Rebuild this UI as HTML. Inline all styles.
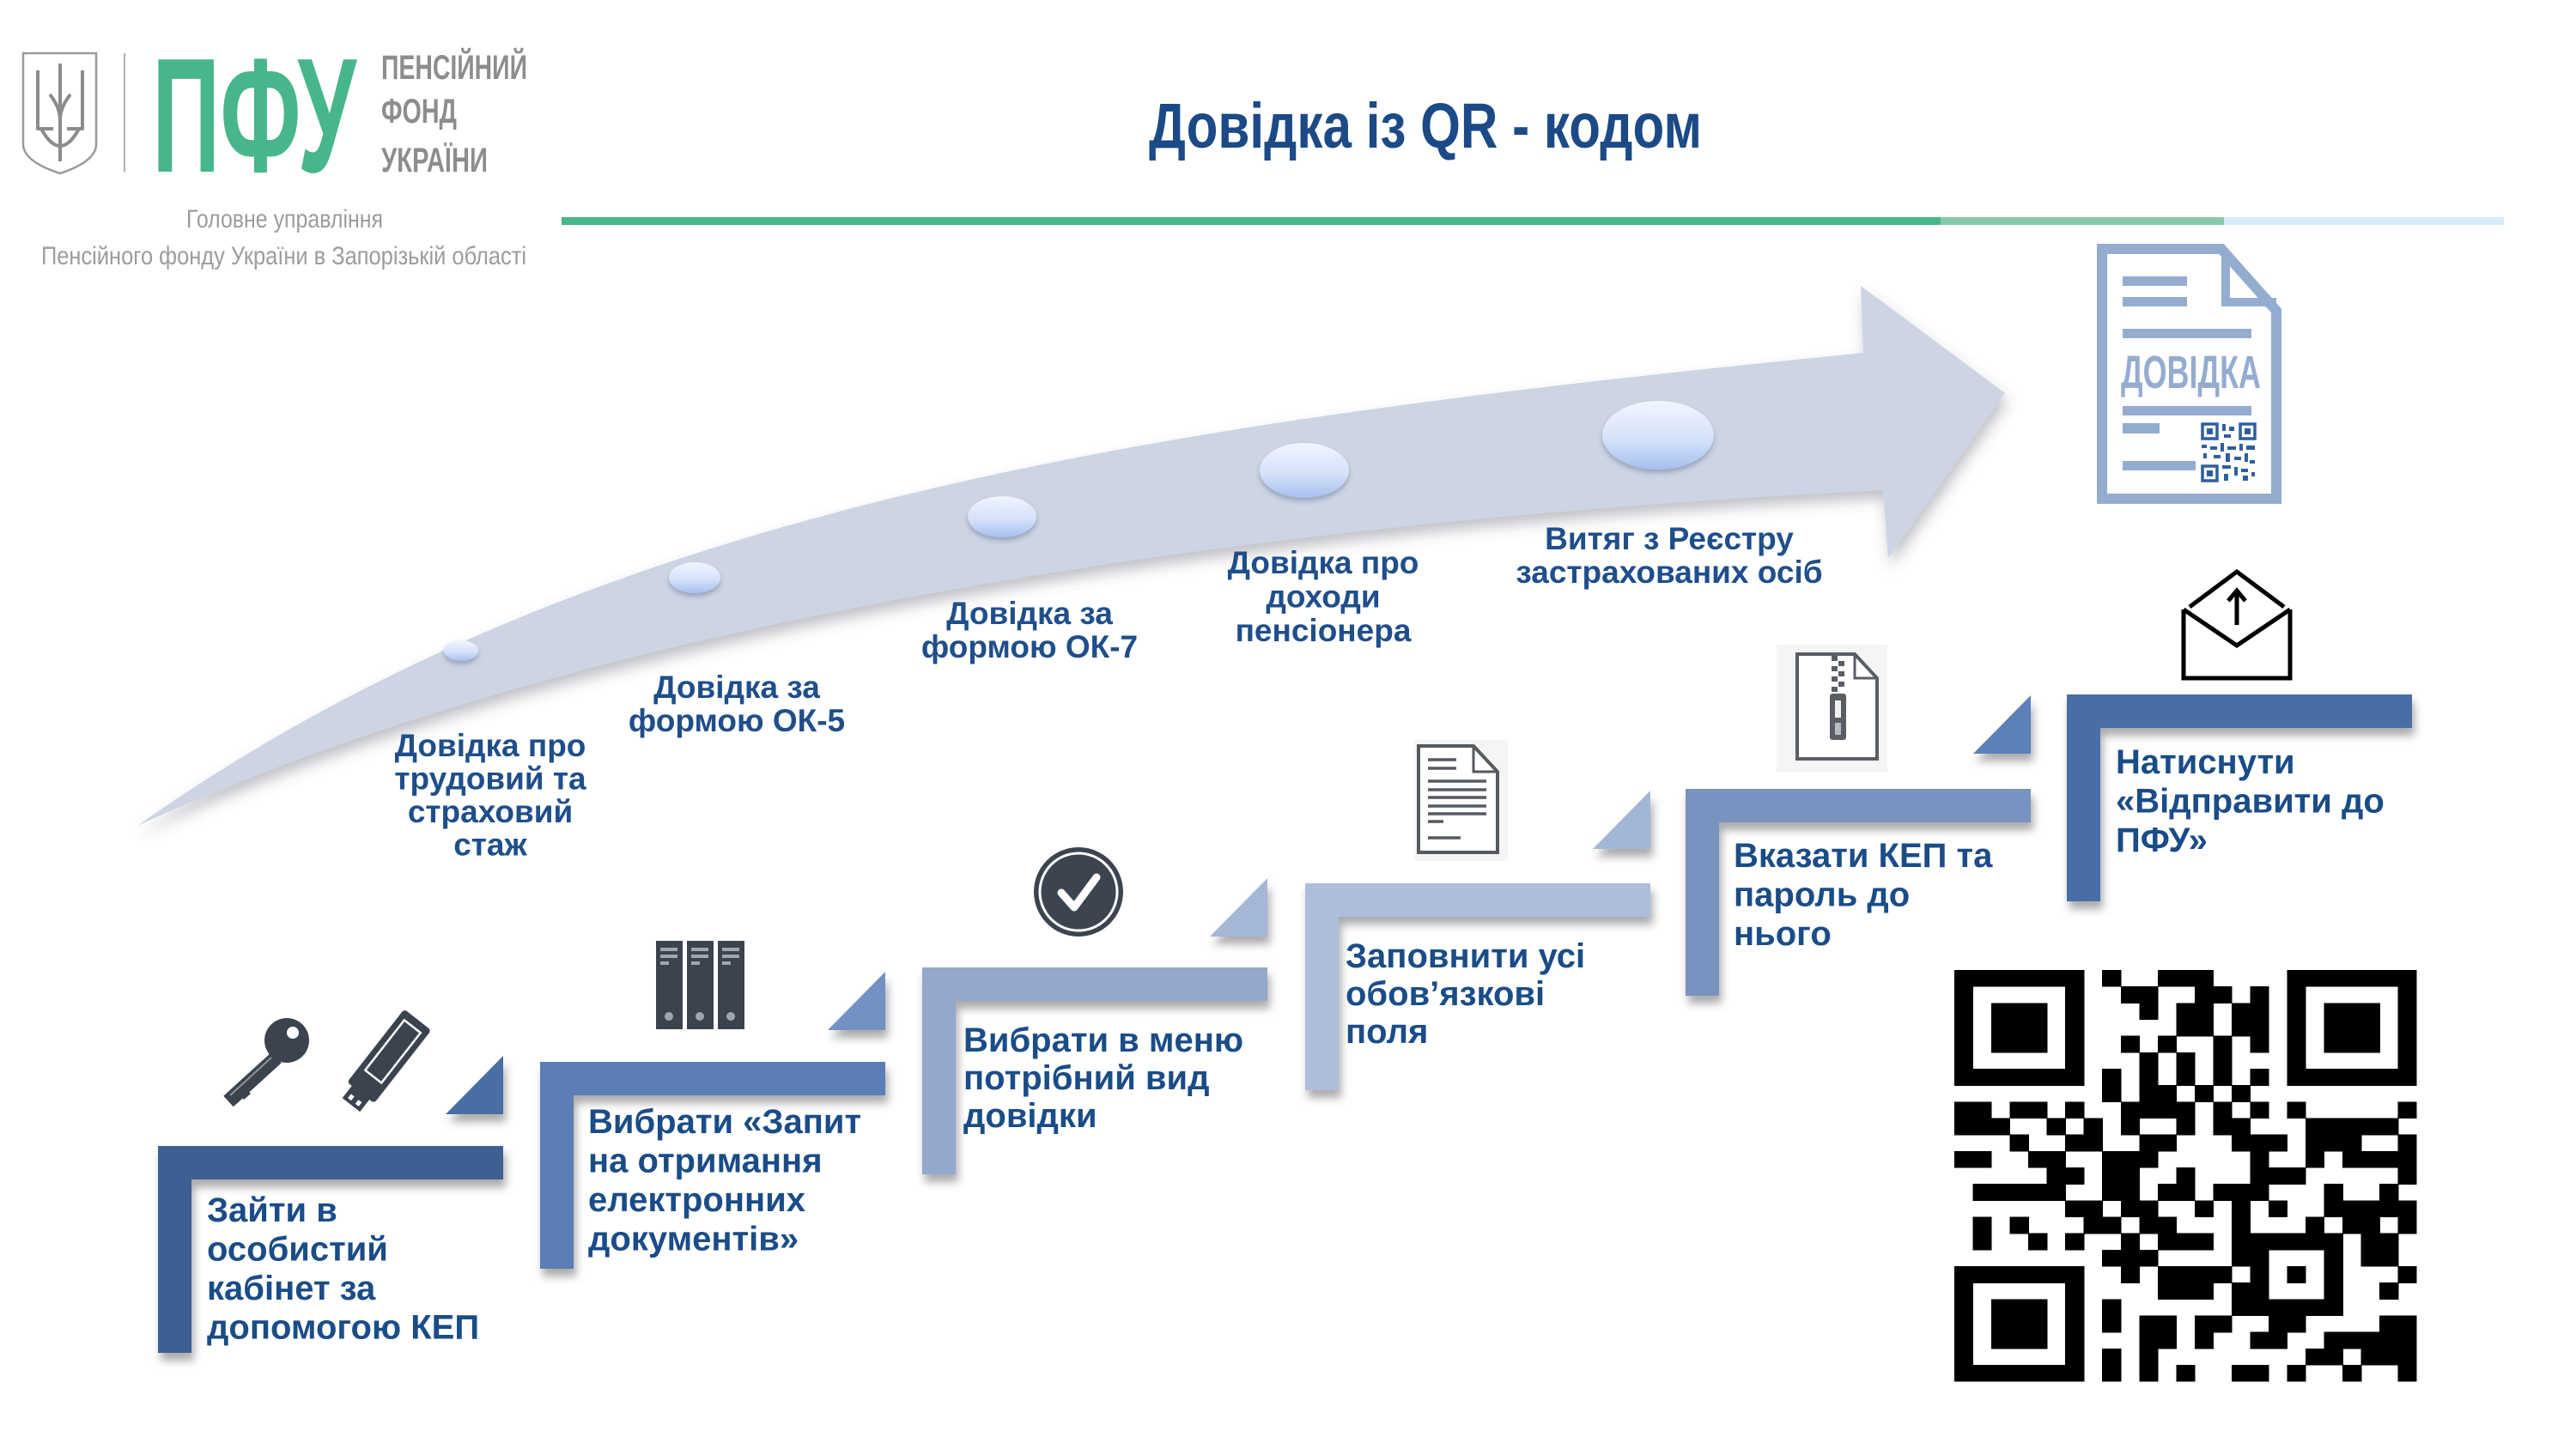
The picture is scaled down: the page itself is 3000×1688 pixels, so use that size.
<!DOCTYPE html>
<html>
<head>
<meta charset="utf-8">
<style>
html,body{margin:0;padding:0;background:#ffffff;}
svg{display:block;}
</style>
</head>
<body>
<svg width="3000" height="1688" viewBox="0 0 3000 1688" xmlns="http://www.w3.org/2000/svg" font-family="'Liberation Sans', Arial, sans-serif">
<defs>
  <filter id="sh" x="-20%" y="-20%" width="150%" height="160%">
    <feDropShadow dx="3" dy="9" stdDeviation="5" flood-color="#000" flood-opacity="0.33"/>
  </filter>
  <filter id="ash" x="-10%" y="-20%" width="130%" height="150%">
    <feDropShadow dx="3" dy="10" stdDeviation="8" flood-color="#4a5060" flood-opacity="0.35"/>
  </filter>
  <filter id="bsh" x="-30%" y="-30%" width="160%" height="180%">
    <feDropShadow dx="0" dy="4" stdDeviation="3" flood-color="#3a4a70" flood-opacity="0.35"/>
  </filter>
  <linearGradient id="bub" x1="0" y1="0" x2="0" y2="1">
    <stop offset="0" stop-color="#f1f5fe"/>
    <stop offset="0.55" stop-color="#d6e2fa"/>
    <stop offset="1" stop-color="#a6c0f0"/>
  </linearGradient>
</defs>

<!-- ===== LOGO ===== -->
<g fill="none" stroke="#9a9a9a" stroke-width="2.5">
  <path d="M27,62 L112,62 L112,168 Q112,188 70,202 Q27,188 27,168 Z"/>
</g>
<g fill="none" stroke="#8c8c8c" stroke-width="4" stroke-linejoin="round">
  <path d="M70,74 L70,172"/>
  <path d="M44,82 L44,150 L62,150"/>
  <path d="M96,82 L96,150 L78,150"/>
  <path d="M48,150 Q70,190 92,150"/>
  <path d="M58,110 Q70,125 70,140 Q70,125 82,110"/>
  <path d="M70,172 L70,188"/>
</g>
<line x1="145" y1="62" x2="145" y2="200" stroke="#b0b0b0" stroke-width="2"/>
<text x="177" y="200" font-size="190" font-weight="bold" fill="#47b68b" textLength="238" lengthAdjust="spacingAndGlyphs">ПФУ</text>
<text x="444" y="92" font-size="40" font-weight="bold" fill="#8d8d8d" textLength="170" lengthAdjust="spacingAndGlyphs">ПЕНСІЙНИЙ</text>
<text x="444" y="143" font-size="40" font-weight="bold" fill="#8d8d8d" textLength="88" lengthAdjust="spacingAndGlyphs">ФОНД</text>
<text x="444" y="200" font-size="40" font-weight="bold" fill="#8d8d8d" textLength="124" lengthAdjust="spacingAndGlyphs">УКРАЇНИ</text>
<text x="217" y="265" font-size="30" fill="#9c9c9c" textLength="229" lengthAdjust="spacingAndGlyphs">Головне управління</text>
<text x="48" y="308" font-size="30" fill="#9c9c9c" textLength="565" lengthAdjust="spacingAndGlyphs">Пенсійного  фонду України  в Запорізькій  області</text>

<!-- ===== TITLE ===== -->
<text x="1338" y="172" font-size="74" font-weight="bold" fill="#1b4a86" textLength="644" lengthAdjust="spacingAndGlyphs">Довідка із QR - кодом</text>

<!-- green line -->
<rect x="654" y="253" width="1606" height="9" fill="#47b68b"/>
<rect x="2260" y="253" width="330" height="9" fill="#87caa9"/>
<rect x="2590" y="253" width="326" height="9" fill="#d5ebf8"/>

<!-- ===== BIG ARROW ===== -->
<path filter="url(#ash)" fill="#cdd5e4" d="M160,962 C700,580 1370,491 2170,411 L2167,333 L2335,458 L2199,650 L2193,571 C1393,610 660,732 160,962 Z"/>

<!-- bubbles -->
<g filter="url(#bsh)" fill="url(#bub)">
  <ellipse cx="537" cy="758" rx="20" ry="12"/>
  <ellipse cx="809" cy="673" rx="30" ry="18"/>
  <ellipse cx="1167" cy="602" rx="40" ry="24"/>
  <ellipse cx="1519" cy="548" rx="52" ry="32"/>
  <ellipse cx="1931" cy="507" rx="65" ry="40"/>
</g>

<!-- arrow labels -->
<g font-size="37" font-weight="bold" fill="#1f4e8b" text-anchor="middle">
  <text x="571" y="881"><tspan x="571">Довідка про</tspan><tspan x="571" dy="38.5">трудовий та</tspan><tspan x="571" dy="38.5">страховий</tspan><tspan x="571" dy="38.5">стаж</tspan></text>
  <text x="858" y="813"><tspan x="858">Довідка за</tspan><tspan x="858" dy="39">формою ОК-5</tspan></text>
  <text x="1199" y="727"><tspan x="1199">Довідка за</tspan><tspan x="1199" dy="39">формою ОК-7</tspan></text>
  <text x="1541" y="668"><tspan x="1541">Довідка про</tspan><tspan x="1541" dy="39.5">доходи</tspan><tspan x="1541" dy="39.5">пенсіонера</tspan></text>
  <text x="1944" y="640"><tspan x="1944">Витяг з Реєстру</tspan><tspan x="1944" dy="39">застрахованих осіб</tspan></text>
</g>

<!-- ===== DOC ICON (top right) ===== -->
<g fill="none" stroke="#94acd0" stroke-width="12" stroke-linejoin="miter">
  <path d="M2448,290 L2587,290 L2651,362 L2651,581 L2448,581 Z"/>
  <path d="M2592,292 L2592,352 L2651,352" stroke-width="10"/>
</g>
<g fill="#94acd0">
  <rect x="2472" y="322" width="75" height="11"/>
  <rect x="2472" y="346" width="75" height="11"/>
  <rect x="2472" y="383" width="150" height="11"/>
  <rect x="2472" y="473" width="150" height="11"/>
  <rect x="2472" y="493" width="43" height="12"/>
  <rect x="2472" y="537" width="85" height="11"/>
</g>
<text x="2470" y="452" font-size="54" font-weight="bold" fill="#94acd0" textLength="163" lengthAdjust="spacingAndGlyphs">ДОВІДКА</text>
<g fill="none" stroke="#2f5ea0" stroke-width="3.5">
  <rect x="2565" y="494" width="17" height="17"/>
  <rect x="2609" y="494" width="17" height="17"/>
  <rect x="2565" y="543" width="17" height="17"/>
</g>
<g fill="#2f5ea0">
  <rect x="2570" y="499" width="7" height="7"/>
  <rect x="2614" y="499" width="7" height="7"/>
  <rect x="2570" y="548" width="7" height="7"/>
  <rect x="2588" y="494" width="4" height="8"/><rect x="2596" y="497" width="6" height="5"/><rect x="2590" y="506" width="8" height="4"/>
  <rect x="2564" y="518" width="6" height="4"/><rect x="2574" y="520" width="8" height="4"/><rect x="2586" y="516" width="4" height="10"/>
  <rect x="2594" y="520" width="10" height="4"/><rect x="2608" y="517" width="4" height="8"/><rect x="2616" y="519" width="10" height="5"/>
  <rect x="2566" y="528" width="4" height="6"/><rect x="2578" y="530" width="8" height="4"/><rect x="2592" y="528" width="5" height="10"/>
  <rect x="2602" y="532" width="8" height="4"/><rect x="2614" y="528" width="4" height="10"/><rect x="2620" y="536" width="6" height="4"/>
  <rect x="2588" y="542" width="10" height="4"/><rect x="2602" y="544" width="4" height="10"/><rect x="2610" y="546" width="8" height="4"/>
  <rect x="2590" y="552" width="5" height="8"/><rect x="2612" y="554" width="6" height="6"/><rect x="2622" y="550" width="4" height="5"/>
</g>

<!-- ===== STEPS ===== -->
<!-- step 1 -->
<g filter="url(#sh)" fill="#3c5f92">
  <rect x="184" y="1335" width="402" height="39"/>
  <rect x="184" y="1335" width="39" height="241"/>
</g>
<polygon filter="url(#sh)" fill="#4a6ea5" points="519,1298 586,1298 586,1230"/>
<!-- step 2 -->
<g filter="url(#sh)" fill="#5a7eb5">
  <rect x="629" y="1237" width="402" height="39"/>
  <rect x="629" y="1237" width="39" height="241"/>
</g>
<polygon filter="url(#sh)" fill="#7391c2" points="964,1200 1031,1200 1031,1132"/>
<!-- step 3 -->
<g filter="url(#sh)" fill="#93a8cb">
  <rect x="1074" y="1127" width="402" height="39"/>
  <rect x="1074" y="1127" width="39" height="241"/>
</g>
<polygon filter="url(#sh)" fill="#a5b7d6" points="1409,1091 1476,1091 1476,1023"/>
<!-- step 4 -->
<g filter="url(#sh)" fill="#adbedb">
  <rect x="1520" y="1029" width="402" height="39"/>
  <rect x="1520" y="1029" width="39" height="241"/>
</g>
<polygon filter="url(#sh)" fill="#a3b6d6" points="1855,989 1922,989 1922,921"/>
<!-- step 5 -->
<g filter="url(#sh)" fill="#7893c0">
  <rect x="1963" y="919" width="402" height="39"/>
  <rect x="1963" y="919" width="39" height="241"/>
</g>
<polygon filter="url(#sh)" fill="#5b80ba" points="2298,878 2365,878 2365,810"/>
<!-- step 6 -->
<g filter="url(#sh)" fill="#4a6ea5">
  <rect x="2407" y="809" width="402" height="39"/>
  <rect x="2407" y="809" width="39" height="241"/>
</g>

<!-- step texts -->
<g font-size="40" font-weight="bold" fill="#1a4c88">
  <text x="241" y="1423"><tspan x="241">Зайти в</tspan><tspan x="241" dy="45.5">особистий</tspan><tspan x="241" dy="45.5">кабінет за</tspan><tspan x="241" dy="45.5">допомогою КЕП</tspan></text>
  <text x="685" y="1320"><tspan x="685">Вибрати «Запит</tspan><tspan x="685" dy="45.5">на отримання</tspan><tspan x="685" dy="45.5">електронних</tspan><tspan x="685" dy="45.5">документів»</tspan></text>
  <text x="1122" y="1225"><tspan x="1122">Вибрати в меню</tspan><tspan x="1122" dy="44">потрібний вид</tspan><tspan x="1122" dy="44">довідки</tspan></text>
  <text x="1567" y="1127"><tspan x="1567">Заповнити усі</tspan><tspan x="1567" dy="44">обов’язкові</tspan><tspan x="1567" dy="44">поля</tspan></text>
  <text x="2019" y="1010"><tspan x="2019">Вказати КЕП та</tspan><tspan x="2019" dy="45.5">пароль до</tspan><tspan x="2019" dy="45.5">нього</tspan></text>
  <text x="2464" y="901"><tspan x="2464">Натиснути</tspan><tspan x="2464" dy="45.5">«Відправити до</tspan><tspan x="2464" dy="45.5">ПФУ»</tspan></text>
</g>

<!-- ===== ICONS ===== -->
<!-- key -->
<g fill="#3b434f">
  <circle cx="334" cy="1212" r="26"/>
  <line x1="322" y1="1232" x2="266" y2="1283" stroke="#3b434f" stroke-width="17"/>
  <polygon points="280,1262 292,1274 284,1281 273,1270"/>
  <polygon points="270,1272 280,1282 274,1287 265,1278"/>
</g>
<circle cx="341" cy="1203" r="7" fill="#ffffff"/>
<line x1="316" y1="1232" x2="268" y2="1276" stroke="#8a929c" stroke-width="2"/>
<!-- usb -->
<g transform="translate(452,1232) rotate(-52)">
  <rect x="-52" y="-20" width="108" height="40" rx="4" fill="#3b434f"/>
  <rect x="-28" y="-12" width="74" height="24" fill="none" stroke="#ffffff" stroke-width="2.5"/>
  <rect x="-70" y="-13" width="20" height="26" fill="#3b434f"/>
  <rect x="-66" y="-8" width="6" height="5" fill="#ffffff"/>
  <rect x="-66" y="3" width="6" height="5" fill="#ffffff"/>
</g>
<!-- binders -->
<g fill="#3b434f">
  <rect x="764" y="1096" width="31" height="103"/>
  <rect x="800" y="1096" width="31" height="103"/>
  <rect x="836" y="1096" width="31" height="103"/>
</g>
<g fill="#a0a6ae">
  <rect x="769" y="1104" width="20" height="4"/><rect x="769" y="1112" width="20" height="4"/><rect x="769" y="1120" width="10" height="4"/>
  <rect x="805" y="1104" width="20" height="4"/><rect x="805" y="1112" width="20" height="4"/><rect x="805" y="1120" width="10" height="4"/>
  <rect x="841" y="1104" width="20" height="4"/><rect x="841" y="1112" width="20" height="4"/><rect x="841" y="1120" width="10" height="4"/>
  <circle cx="779" cy="1184" r="5"/><circle cx="815" cy="1184" r="5"/><circle cx="851" cy="1184" r="5"/>
</g>
<!-- check circle -->
<circle cx="1256" cy="1039" r="52" fill="#3c4450"/>
<circle cx="1256" cy="1039" r="45" fill="none" stroke="#ffffff" stroke-width="3"/>
<polyline points="1236,1040 1251,1057 1277,1022" fill="none" stroke="#ffffff" stroke-width="9" stroke-linecap="round" stroke-linejoin="round"/>
<!-- document icon (step 4) -->
<rect x="1647" y="862" width="109" height="141" fill="#f5f5f5"/>
<path d="M1652,869 L1716,869 L1744,899 L1744,993 L1652,993 Z" fill="#ffffff" stroke="#555a60" stroke-width="4"/>
<path d="M1716,869 L1716,899 L1744,899" fill="none" stroke="#555a60" stroke-width="3"/>
<g stroke="#555a60" stroke-width="3.5">
  <line x1="1663" y1="885" x2="1696" y2="885"/>
  <line x1="1663" y1="895" x2="1696" y2="895"/>
  <line x1="1663" y1="910" x2="1731" y2="910"/>
  <line x1="1663" y1="920" x2="1731" y2="920"/>
  <line x1="1663" y1="929" x2="1731" y2="929"/>
  <line x1="1663" y1="939" x2="1731" y2="939"/>
  <line x1="1663" y1="948" x2="1731" y2="948"/>
  <line x1="1663" y1="957" x2="1681" y2="957"/>
  <line x1="1663" y1="976" x2="1701" y2="976"/>
</g>
<!-- zip icon -->
<rect x="2069" y="751" width="129" height="148" fill="#f5f5f5"/>
<path d="M2093,762 L2160,762 L2186,790 L2186,884 L2093,884 Z" fill="#ffffff" stroke="#5a5e64" stroke-width="4"/>
<path d="M2160,762 L2160,790 L2186,790" fill="none" stroke="#5a5e64" stroke-width="3"/>
<g fill="#5a5e64">
  <rect x="2133" y="764" width="7" height="6"/><rect x="2141" y="770" width="7" height="6"/>
  <rect x="2133" y="776" width="7" height="6"/><rect x="2141" y="782" width="7" height="6"/>
  <rect x="2133" y="788" width="7" height="6"/><rect x="2141" y="794" width="7" height="6"/>
  <rect x="2133" y="800" width="7" height="6"/>
  <rect x="2131" y="808" width="19" height="54" rx="3"/>
</g>
<rect x="2137" y="816" width="7" height="20" fill="#f0f0f0"/>
<rect x="2137" y="842" width="7" height="14" fill="#b8bcc0"/>
<!-- envelope -->
<g fill="none" stroke="#000000" stroke-width="5" stroke-linejoin="miter">
  <path d="M2543,710 L2543,790 L2667,790 L2667,710"/>
  <path d="M2543,710 L2605,752 L2667,710"/>
  <path d="M2550,707 L2605,666 L2660,707"/>
  <line x1="2605" y1="728" x2="2605" y2="690"/>
  <path d="M2595,700 L2605,688 L2615,700"/>
</g>

<!-- ===== QR CODE ===== -->
<g transform="translate(2276,1130) scale(21.53,19.17)" fill="#000000" shape-rendering="crispEdges">
  <!-- r0 --><rect x="0" y="0" width="7.03" height="1.03"/><rect x="8" y="0" width="1.03" height="1.03"/><rect x="11" y="0" width="3.03" height="1.03"/><rect x="18" y="0" width="7" height="1.03"/>
  <!-- r1 --><rect x="0" y="1" width="1.03" height="1.03"/><rect x="6" y="1" width="1.03" height="1.03"/><rect x="9" y="1" width="2.03" height="1.03"/><rect x="13" y="1" width="2.03" height="1.03"/><rect x="16" y="1" width="1.03" height="1.03"/><rect x="18" y="1" width="1.03" height="1.03"/><rect x="24" y="1" width="1" height="1.03"/>
  <!-- r2 --><rect x="0" y="2" width="1.03" height="1.03"/><rect x="2" y="2" width="3.03" height="1.03"/><rect x="6" y="2" width="1.03" height="1.03"/><rect x="10" y="2" width="1.03" height="1.03"/><rect x="12" y="2" width="2.03" height="1.03"/><rect x="15" y="2" width="2.03" height="1.03"/><rect x="18" y="2" width="1.03" height="1.03"/><rect x="20" y="2" width="3.03" height="1.03"/><rect x="24" y="2" width="1" height="1.03"/>
  <!-- r3 --><rect x="0" y="3" width="1.03" height="1.03"/><rect x="2" y="3" width="3.03" height="1.03"/><rect x="6" y="3" width="1.03" height="1.03"/><rect x="12" y="3" width="2.03" height="1.03"/><rect x="15" y="3" width="2.03" height="1.03"/><rect x="18" y="3" width="1.03" height="1.03"/><rect x="20" y="3" width="3.03" height="1.03"/><rect x="24" y="3" width="1" height="1.03"/>
  <!-- r4 --><rect x="0" y="4" width="1.03" height="1.03"/><rect x="2" y="4" width="3.03" height="1.03"/><rect x="6" y="4" width="1.03" height="1.03"/><rect x="9" y="4" width="1.03" height="1.03"/><rect x="11" y="4" width="1.03" height="1.03"/><rect x="14" y="4" width="1.03" height="1.03"/><rect x="16" y="4" width="1.03" height="1.03"/><rect x="18" y="4" width="1.03" height="1.03"/><rect x="20" y="4" width="3.03" height="1.03"/><rect x="24" y="4" width="1" height="1.03"/>
  <!-- r5 --><rect x="0" y="5" width="1.03" height="1.03"/><rect x="6" y="5" width="1.03" height="1.03"/><rect x="10" y="5" width="1.03" height="1.03"/><rect x="12" y="5" width="1.03" height="1.03"/><rect x="14" y="5" width="1.03" height="1.03"/><rect x="18" y="5" width="1.03" height="1.03"/><rect x="24" y="5" width="1" height="1.03"/>
  <!-- r6 --><rect x="0" y="6" width="7.03" height="1.03"/><rect x="8" y="6" width="1.03" height="1.03"/><rect x="10" y="6" width="1.03" height="1.03"/><rect x="12" y="6" width="1.03" height="1.03"/><rect x="14" y="6" width="1.03" height="1.03"/><rect x="16" y="6" width="1.03" height="1.03"/><rect x="18" y="6" width="7" height="1.03"/>
  <!-- r7 --><rect x="8" y="7" width="1.03" height="1.03"/><rect x="10" y="7" width="2.03" height="1.03"/><rect x="13" y="7" width="1.03" height="1.03"/><rect x="15" y="7" width="1.03" height="1.03"/>
  <!-- r8 --><rect x="0" y="8" width="2.03" height="1.03"/><rect x="3" y="8" width="2.03" height="1.03"/><rect x="6" y="8" width="1.03" height="1.03"/><rect x="9" y="8" width="4.03" height="1.03"/><rect x="14" y="8" width="1.03" height="1.03"/><rect x="16" y="8" width="1.03" height="1.03"/><rect x="18" y="8" width="1.03" height="1.03"/><rect x="24" y="8" width="1" height="1.03"/>
  <!-- r9 --><rect x="0" y="9" width="3.03" height="1.03"/><rect x="5" y="9" width="1.03" height="1.03"/><rect x="7" y="9" width="1.03" height="1.03"/><rect x="9" y="9" width="1.03" height="1.03"/><rect x="12" y="9" width="1.03" height="1.03"/><rect x="14" y="9" width="2.03" height="1.03"/><rect x="19" y="9" width="5.03" height="1.03"/>
  <!-- r10 --><rect x="3" y="10" width="1.03" height="1.03"/><rect x="6" y="10" width="2.03" height="1.03"/><rect x="10" y="10" width="2.03" height="1.03"/><rect x="15" y="10" width="3.03" height="1.03"/><rect x="19" y="10" width="3.03" height="1.03"/><rect x="24" y="10" width="1" height="1.03"/>
  <!-- r11 --><rect x="0" y="11" width="2.03" height="1.03"/><rect x="4" y="11" width="2.03" height="1.03"/><rect x="8" y="11" width="3.03" height="1.03"/><rect x="16" y="11" width="1.03" height="1.03"/><rect x="19" y="11" width="1.03" height="1.03"/><rect x="21" y="11" width="4" height="1.03"/>
  <!-- r12 --><rect x="5" y="12" width="2.03" height="1.03"/><rect x="8" y="12" width="2.03" height="1.03"/><rect x="12" y="12" width="1.03" height="1.03"/><rect x="16" y="12" width="3.03" height="1.03"/><rect x="24" y="12" width="1" height="1.03"/>
  <!-- r13 --><rect x="1" y="13" width="5.03" height="1.03"/><rect x="8" y="13" width="2.03" height="1.03"/><rect x="11" y="13" width="2.03" height="1.03"/><rect x="14" y="13" width="3.03" height="1.03"/><rect x="20" y="13" width="1.03" height="1.03"/><rect x="23" y="13" width="1.03" height="1.03"/>
  <!-- r14 --><rect x="6" y="14" width="2.03" height="1.03"/><rect x="9" y="14" width="2.03" height="1.03"/><rect x="13" y="14" width="1.03" height="1.03"/><rect x="15" y="14" width="1.03" height="1.03"/><rect x="17" y="14" width="1.03" height="1.03"/><rect x="20" y="14" width="5" height="1.03"/>
  <!-- r15 --><rect x="1" y="15" width="1.03" height="1.03"/><rect x="3" y="15" width="1.03" height="1.03"/><rect x="7" y="15" width="2.03" height="1.03"/><rect x="10" y="15" width="2.03" height="1.03"/><rect x="15" y="15" width="1.03" height="1.03"/><rect x="19" y="15" width="1.03" height="1.03"/><rect x="21" y="15" width="2.03" height="1.03"/><rect x="24" y="15" width="1" height="1.03"/>
  <!-- r16 --><rect x="1" y="16" width="1.03" height="1.03"/><rect x="4" y="16" width="1.03" height="1.03"/><rect x="6" y="16" width="1.03" height="1.03"/><rect x="9" y="16" width="1.03" height="1.03"/><rect x="11" y="16" width="3.03" height="1.03"/><rect x="15" y="16" width="6.03" height="1.03"/><rect x="22" y="16" width="2.03" height="1.03"/>
  <!-- r17 --><rect x="8" y="17" width="3.03" height="1.03"/><rect x="15" y="17" width="2.03" height="1.03"/><rect x="20" y="17" width="1.03" height="1.03"/><rect x="22" y="17" width="2.03" height="1.03"/>
  <!-- r18 --><rect x="0" y="18" width="7.03" height="1.03"/><rect x="9" y="18" width="1.03" height="1.03"/><rect x="11" y="18" width="4.03" height="1.03"/><rect x="16" y="18" width="1.03" height="1.03"/><rect x="18" y="18" width="1.03" height="1.03"/><rect x="20" y="18" width="1.03" height="1.03"/><rect x="24" y="18" width="1" height="1.03"/>
  <!-- r19 --><rect x="0" y="19" width="1.03" height="1.03"/><rect x="6" y="19" width="1.03" height="1.03"/><rect x="11" y="19" width="3.03" height="1.03"/><rect x="15" y="19" width="2.03" height="1.03"/><rect x="20" y="19" width="1.03" height="1.03"/><rect x="23" y="19" width="1.03" height="1.03"/>
  <!-- r20 --><rect x="0" y="20" width="1.03" height="1.03"/><rect x="2" y="20" width="3.03" height="1.03"/><rect x="6" y="20" width="1.03" height="1.03"/><rect x="8" y="20" width="1.03" height="1.03"/><rect x="15" y="20" width="6.03" height="1.03"/>
  <!-- r21 --><rect x="0" y="21" width="1.03" height="1.03"/><rect x="2" y="21" width="3.03" height="1.03"/><rect x="6" y="21" width="1.03" height="1.03"/><rect x="8" y="21" width="1.03" height="1.03"/><rect x="10" y="21" width="2.03" height="1.03"/><rect x="13" y="21" width="2.03" height="1.03"/><rect x="17" y="21" width="2.03" height="1.03"/><rect x="23" y="21" width="2" height="1.03"/>
  <!-- r22 --><rect x="0" y="22" width="1.03" height="1.03"/><rect x="2" y="22" width="3.03" height="1.03"/><rect x="6" y="22" width="1.03" height="1.03"/><rect x="10" y="22" width="2.03" height="1.03"/><rect x="13" y="22" width="1.03" height="1.03"/><rect x="16" y="22" width="2.03" height="1.03"/><rect x="20" y="22" width="5" height="1.03"/>
  <!-- r23 --><rect x="0" y="23" width="1.03" height="1.03"/><rect x="6" y="23" width="1.03" height="1.03"/><rect x="8" y="23" width="1.03" height="1.03"/><rect x="10" y="23" width="1.03" height="1.03"/><rect x="19" y="23" width="2.03" height="1.03"/><rect x="22" y="23" width="3" height="1.03"/>
  <!-- r24 --><rect x="0" y="24" width="7.03" height="1"/><rect x="8" y="24" width="1.03" height="1"/><rect x="10" y="24" width="1.03" height="1"/><rect x="12" y="24" width="1.03" height="1"/><rect x="15" y="24" width="2.03" height="1"/><rect x="18" y="24" width="1.03" height="1"/><rect x="21" y="24" width="1.03" height="1"/><rect x="24" y="24" width="1" height="1"/>
</g>
</svg>
</body>
</html>
